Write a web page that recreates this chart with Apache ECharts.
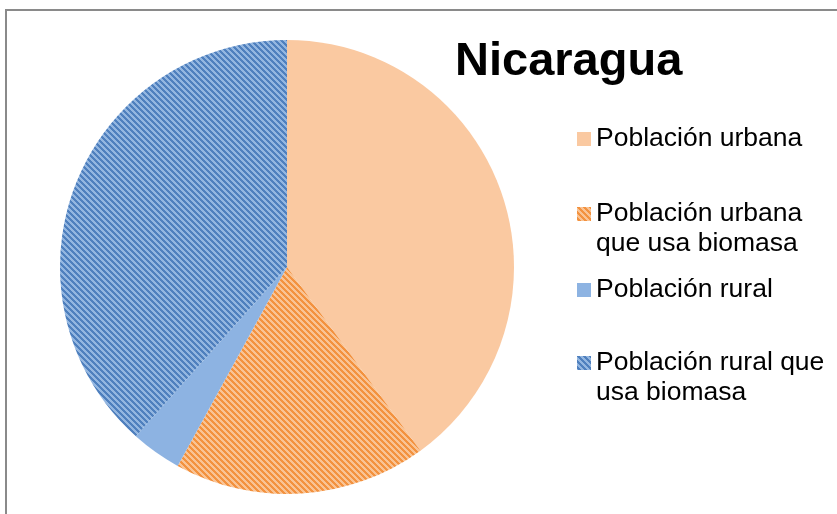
<!DOCTYPE html>
<html>
<head>
<meta charset="utf-8">
<script src="https://cdn.jsdelivr.net/npm/echarts@6/dist/echarts.min.js"></script>
<style>
html, body { margin: 0; padding: 0; background: #fff; }
#chart { width: 837px; height: 514px; }
</style>
</head>
<body>
<div id="chart"></div>
<script>
// data (share of population, %)
var categories = ['Población urbana', 'Población urbana\nque usa biomasa', 'Población rural', 'Población rural que\nusa biomasa'];
var shares = [40.0, 18.0, 3.6, 38.4];
var legendTops = [124, 169, 275, 318];

// diagonal stripe tile, like the excel pattern fill
function stripes(dark, light){
	var size = 6;
	var cv = document.createElement('canvas');
	cv.width = size; cv.height = size;
	var ctx = cv.getContext('2d');
	ctx.fillStyle = light;
	ctx.fillRect(0, 0, size, size);
	ctx.fillStyle = dark;
	for (var y = 0; y < size; y++){
		for (var x = 0; x < size; x++){
			if (((x - y) % size + size) % size < 3) ctx.fillRect(x, y, 1, 1);
		}
	}
	return {image: cv, repeat: 'repeat'};
}

var colors = [
	'#FAC9A1',
	stripes('#F3923F', '#F9C394'),
	'#8DB3E2',
	stripes('#4F80BE', '#93B6E0')
];

var pieData = [];
for (var i = 0; i < categories.length; i++){
	pieData.push({name: categories[i], value: shares[i], itemStyle: {color: colors[i]}});
}

// one legend per item; an empty first line keeps the marker beside the first text line
var legends = [];
for (var k = 0; k < categories.length; k++){
	legends.push({
		data: [categories[k]],
		left: 577,
		top: legendTops[k],
		padding: 0,
		itemWidth: 14,
		itemHeight: 14,
		icon: 'rect',
		selectedMode: false,
		formatter: function(name){
			return name.indexOf('\n') >= 0 ? '\n' + name : name;
		},
		textStyle: {
			fontFamily: 'Liberation Sans, Arial, sans-serif',
			fontSize: 26.5,
			lineHeight: 30,
			color: '#000'
		}
	});
}

var chart = echarts.init(document.getElementById('chart'));
chart.setOption({
	animation: false,
	backgroundColor: '#fff',
	title: {
		text: 'Nicaragua',
		left: 455,
		top: 39,
		padding: 0,
		textStyle: {
			fontFamily: 'Liberation Sans, Arial, sans-serif',
			fontSize: 47,
			fontWeight: 'bold',
			color: '#000'
		}
	},
	legend: legends,
	graphic: [{
		type: 'rect',
		shape: {x: 6, y: 10, width: 900, height: 600},
		style: {fill: 'none', stroke: '#8a8a8a', lineWidth: 2},
		silent: true
	}],
	series: [{
		type: 'pie',
		center: [287, 267],
		radius: 227,
		startAngle: 90,
		clockwise: true,
		label: {show: false},
		labelLine: {show: false},
		emphasis: {disabled: true},
		itemStyle: {borderWidth: 0},
		data: pieData
	}]
});
</script>
</body>
</html>
